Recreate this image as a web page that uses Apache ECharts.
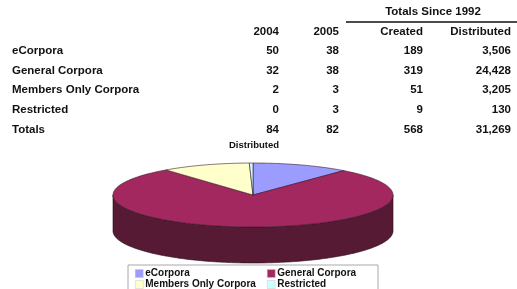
<!DOCTYPE html>
<html>
<head>
<meta charset="utf-8">
<script src="https://cdn.jsdelivr.net/npm/echarts@6/dist/echarts.min.js"></script>
<style>
html, body { margin: 0; padding: 0; background: #fff; }
#chart { width: 517px; height: 289px; }
</style>
</head>
<body>
<div id="chart"></div>
<script>
// table data
var categories = ['eCorpora', 'General Corpora', 'Members Only Corpora', 'Restricted'];
var y2004 = [50, 32, 2, 0];
var y2005 = [38, 38, 3, 3];
var created = [189, 319, 51, 9];
var distributed = [3506, 24428, 3205, 130];
var totalsRow = [84, 82, 568, 31269];
var headers = ['2004', '2005', 'Created', 'Distributed'];

var colors = ['#9c9cff', '#a3285f', '#ffffcc', '#ccffff'];
var sideColors = ['#5c5ca0', '#561a35', '#a0a070', '#70a0a0'];
var font = '"Liberation Sans", Arial, sans-serif';

var colRight = [279, 339, 423, 511];
var rowY = [51, 71, 90, 110, 130];

var pie = { cx: 253, cy: 195, rx: 140, ry: 32, depth: 36 };
var total = distributed.reduce(function (a, b) { return a + b; }, 0);

function fmt(n) {
    return String(n).replace(/\B(?=(\d{3})+(?!\d))/g, ',');
}

function cell(text, x, y, align, size) {
    return {
        type: 'text', x: x, y: y, silent: true,
        style: {
            text: text, fill: '#111', fontFamily: font, fontWeight: 'bold',
            fontSize: size || 11.5, align: align || 'right', verticalAlign: 'middle'
        }
    };
}

var graphic = [];
graphic.push(cell('Totals Since 1992', 433, 12, 'center'));
graphic.push({ type: 'line', silent: true, shape: { x1: 346, y1: 22, x2: 517, y2: 22 }, style: { stroke: '#111', lineWidth: 1.5 } });
headers.forEach(function (h, c) { graphic.push(cell(h, colRight[c], 32)); });
categories.forEach(function (name, r) {
    graphic.push(cell(name, 12, rowY[r], 'left'));
    [y2004[r], y2005[r], created[r], distributed[r]].forEach(function (v, c) {
        graphic.push(cell(fmt(v), colRight[c], rowY[r]));
    });
});
graphic.push(cell('Totals', 12, rowY[4], 'left'));
totalsRow.forEach(function (v, c) { graphic.push(cell(fmt(v), colRight[c], rowY[4])); });
graphic.push(cell('Distributed', 254, 145, 'center', 9.5));
// legend frame
graphic.push({ type: 'rect', silent: true, z: -1, shape: { x: 128, y: 265, width: 250, height: 30 }, style: { fill: '#fff', stroke: '#a8a8a8', lineWidth: 1 } });

function angles(i) {
    var before = 0;
    for (var k = 0; k < i; k++) before += distributed[k];
    var a = -Math.PI / 2 + 2 * Math.PI * before / total;
    return [a, a + 2 * Math.PI * distributed[i] / total];
}

function arcPts(a, b, dy) {
    var pts = [];
    var n = Math.max(2, Math.ceil((b - a) / 0.02));
    for (var j = 0; j <= n; j++) {
        var t = a + (b - a) * j / n;
        pts.push([pie.cx + pie.rx * Math.cos(t), pie.cy + dy + pie.ry * Math.sin(t)]);
    }
    return pts;
}

function renderSlice(params, api) {
    var i = params.seriesIndex;
    var ang = angles(i);
    var children = [];
    // front wall, only the part facing the viewer
    for (var k = -1; k <= 1; k++) {
        var lo = Math.max(ang[0], 2 * Math.PI * k);
        var hi = Math.min(ang[1], 2 * Math.PI * k + Math.PI);
        if (lo < hi) {
            var pts = arcPts(lo, hi, 0).concat(arcPts(lo, hi, pie.depth).reverse());
            children.push({ type: 'polygon', shape: { points: pts }, style: { fill: sideColors[i], stroke: '#2a0c18', lineWidth: 0.6 } });
        }
    }
    children.push({
        type: 'polygon',
        shape: { points: [[pie.cx, pie.cy]].concat(arcPts(ang[0], ang[1], 0)) },
        style: { fill: colors[i], stroke: '#3a1a2a', lineWidth: 0.6 }
    });
    return { type: 'group', children: children };
}

var legendBase = {
    orient: 'vertical', top: 268, height: 40, padding: 0, itemWidth: 8, itemHeight: 8, itemGap: 0,
    icon: 'rect', selectedMode: false,
    itemStyle: { borderColor: '#c8c8c8', borderWidth: 0.5 },
    textStyle: { fontSize: 10, lineHeight: 11, fontWeight: 'bold', fontFamily: font, color: '#111', padding: [0, 0, 0, -3] }
};

var chart = echarts.init(document.getElementById('chart'));
chart.setOption({
    animation: false,
    legend: [
        Object.assign({}, legendBase, { left: 135, data: [categories[0], categories[2]] }),
        Object.assign({}, legendBase, { left: 267, data: [categories[1], categories[3]] })
    ],
    graphic: graphic,
    series: categories.map(function (name, i) {
        return {
            type: 'custom', name: name, coordinateSystem: 'none', silent: true,
            itemStyle: { color: colors[i] },
            renderItem: renderSlice,
            data: [distributed[i]]
        };
    })
});
</script>
</body>
</html>
